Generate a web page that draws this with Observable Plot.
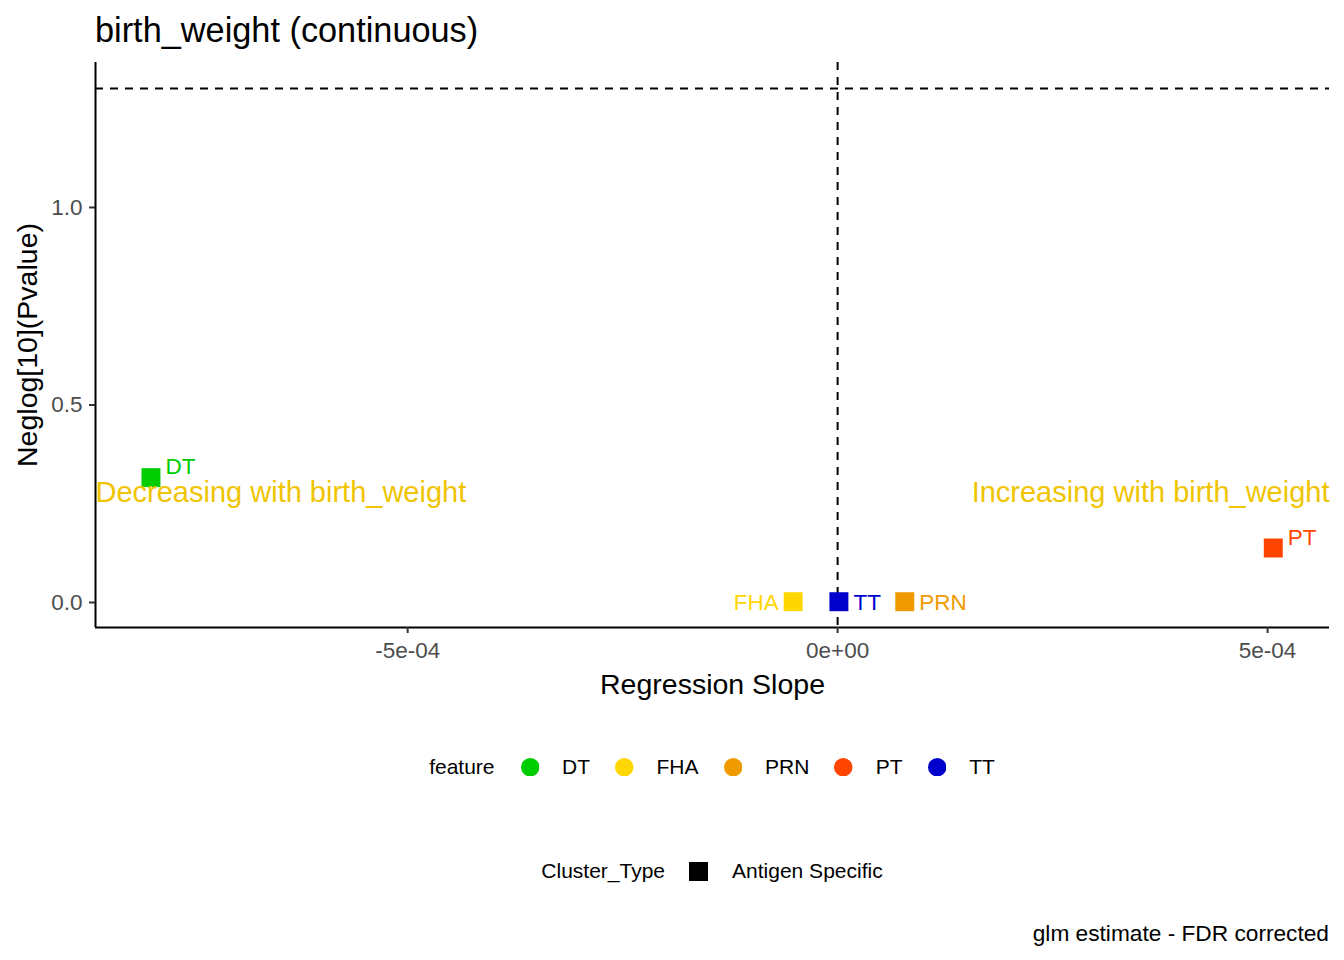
<!DOCTYPE html>
<html>
<head>
<meta charset="utf-8">
<script src="https://cdn.jsdelivr.net/npm/d3@7"></script>
<script src="https://cdn.jsdelivr.net/npm/@observablehq/plot@0.6"></script>
<style>
  body { margin: 0; background: #fff; font-family: "Liberation Sans", Arial, sans-serif; }
  #wrap { position: relative; width: 1344px; height: 960px; overflow: hidden; background: #fff; }
  #title { position: absolute; left: 95px; top: 13px; font-size: 34.3px; line-height: 34px; color: #000; white-space: nowrap; }
  #chart { position: absolute; left: 0; top: 50px; }
  .legend { position: absolute; left: 0; width: 1424px; height: 30px; display: flex; justify-content: center; align-items: center; font-size: 21px; color: #000; white-space: nowrap; }
  .legend .lt { margin-right: 26px; }
  .legend .sw { margin-right: 23px; flex: none; }
  .legend .lb { margin-right: 25px; }
  .legend .lb:last-child { margin-right: 0; }
  #caption { position: absolute; right: 15px; top: 922px; font-size: 22.7px; line-height: 22.7px; color: #000; white-space: nowrap; }
</style>
</head>
<body>
<div id="wrap">
  <div id="title"></div>
  <div id="chart"></div>
  <div class="legend" id="legFeature" style="top:752px"></div>
  <div class="legend" id="legCluster" style="top:856px"></div>
  <div id="caption"></div>
</div>
<script>
// ---- data ----
const titleText = "birth_weight (continuous)";
const captionText = "glm estimate - FDR corrected";
const xLabel = "Regression Slope";
const yLabel = "Neglog[10](Pvalue)";
const features = ["DT", "FHA", "PRN", "PT", "TT"];
const slopes = [-7.985e-4, -5.17e-5, 7.81e-5, 5.066e-4, 1.5e-6];
const negLogP = [0.316, 0.002, 0.002, 0.138, 0.002];
const featureColors = ["#00CD00", "#FFD700", "#EE9A00", "#FF4500", "#0000CD"];
const clusterTypes = ["Antigen Specific"];
const xTicks = [-5e-4, 0, 5e-4];
const yTicks = [0, 0.5, 1.0];
const xDomain = [-8.63e-4, 5.72e-4];
const yDomain = [-0.0633, 1.367];
const pThreshold = 0.05;
const annotations = ["Decreasing with birth_weight", "Increasing with birth_weight"];
const annotationY = [0.278, 0.278];
const annotationColor = "#F0C400";

// ---- table ----
const rows = features.map((f, i) => ({feature: f, slope: slopes[i], p: negLogP[i], cluster: clusterTypes[0]}));

const locale = d3.formatLocale({decimal: ".", thousands: ",", grouping: [3], currency: ["", ""], minus: "-"});
const fmtE = d => locale.format(".0e")(d).replace(/e([+-])(\d)$/, "e$10$2");
const fmtY = locale.format(".1f");
const FONT = "Liberation Sans, Arial, sans-serif";
const dash = {stroke: "#000", strokeWidth: 2, strokeDasharray: "8,7"};

// label placement (repel-like nudges)
const leftLabelled = new Set(["FHA"]);
const raisedLabelled = new Set(["DT", "PT"]);

const plot = Plot.plot({
  width: 1344,
  height: 660,
  marginLeft: 95,
  marginRight: 15,
  marginTop: 12,
  marginBottom: 83,
  x: {domain: xDomain},
  y: {domain: yDomain},
  color: {domain: features, range: featureColors},
  style: {fontFamily: FONT, background: "transparent", overflow: "visible"},
  marks: [
    Plot.ruleY([-Math.log10(pThreshold)], dash),
    Plot.ruleX([0], dash),
    Plot.ruleX([xDomain[0]], {stroke: "#000", strokeWidth: 2}),
    Plot.ruleY([yDomain[0]], {stroke: "#000", strokeWidth: 2}),
    Plot.axisX(xTicks, {tickSize: 6, tickPadding: 9, tickFormat: fmtE, fontSize: 22.5, fill: "#4D4D4D", stroke: "#333", strokeWidth: 2, label: null}),
    Plot.axisY(yTicks, {tickSize: 6, tickPadding: 7, tickFormat: fmtY, fontSize: 22.5, fill: "#4D4D4D", stroke: "#333", strokeWidth: 2, label: null}),
    Plot.text([xLabel], {frameAnchor: "bottom", text: d => d, dy: 66, textAnchor: "middle", lineAnchor: "bottom", fontSize: 28.5, fill: "#000"}),
    Plot.text([yLabel], {frameAnchor: "left", text: d => d, dx: -59, rotate: -90, textAnchor: "middle", lineAnchor: "bottom", fontSize: 28.5, fill: "#000"}),
    Plot.dot(rows, {x: "slope", y: "p", fill: "feature", symbol: "square", r: 10.7}),
    Plot.text(rows.filter(d => !leftLabelled.has(d.feature) && raisedLabelled.has(d.feature)),
      {x: "slope", y: "p", text: "feature", fill: "feature", textAnchor: "start", dx: 14.5, dy: -10.5, fontSize: 22.5}),
    Plot.text(rows.filter(d => !leftLabelled.has(d.feature) && !raisedLabelled.has(d.feature)),
      {x: "slope", y: "p", text: "feature", fill: "feature", textAnchor: "start", dx: 14.5, dy: 1, fontSize: 22.5}),
    Plot.text(rows.filter(d => leftLabelled.has(d.feature)),
      {x: "slope", y: "p", text: "feature", fill: "feature", textAnchor: "end", dx: -14.5, dy: 1, fontSize: 22.5}),
    Plot.text([annotations[0]], {y: () => annotationY[0], text: d => d, frameAnchor: "left", textAnchor: "start", fill: annotationColor, fontSize: 29}),
    Plot.text([annotations[1]], {y: () => annotationY[1], text: d => d, frameAnchor: "right", textAnchor: "end", fill: annotationColor, fontSize: 29})
  ]
});
document.getElementById("chart").appendChild(plot);

document.getElementById("title").textContent = titleText;
document.getElementById("caption").textContent = captionText;

// feature legend (circles)
const lf = document.getElementById("legFeature");
lf.innerHTML = `<span class="lt">feature</span>` + features.map((f, i) =>
  `<svg class="sw" width="18.5" height="18.5"><circle cx="9.25" cy="9.25" r="9.25" fill="${featureColors[i]}"/></svg><span class="lb">${f}</span>`
).join("");

// cluster legend (square)
const lc = document.getElementById("legCluster");
lc.innerHTML = `<span class="lt" style="margin-right:24px">Cluster_Type</span>` + clusterTypes.map(c =>
  `<svg class="sw" width="19" height="19" style="margin-right:24px"><rect width="19" height="19" fill="#000"/></svg><span class="lb">${c}</span>`
).join("");
</script>
</body>
</html>
